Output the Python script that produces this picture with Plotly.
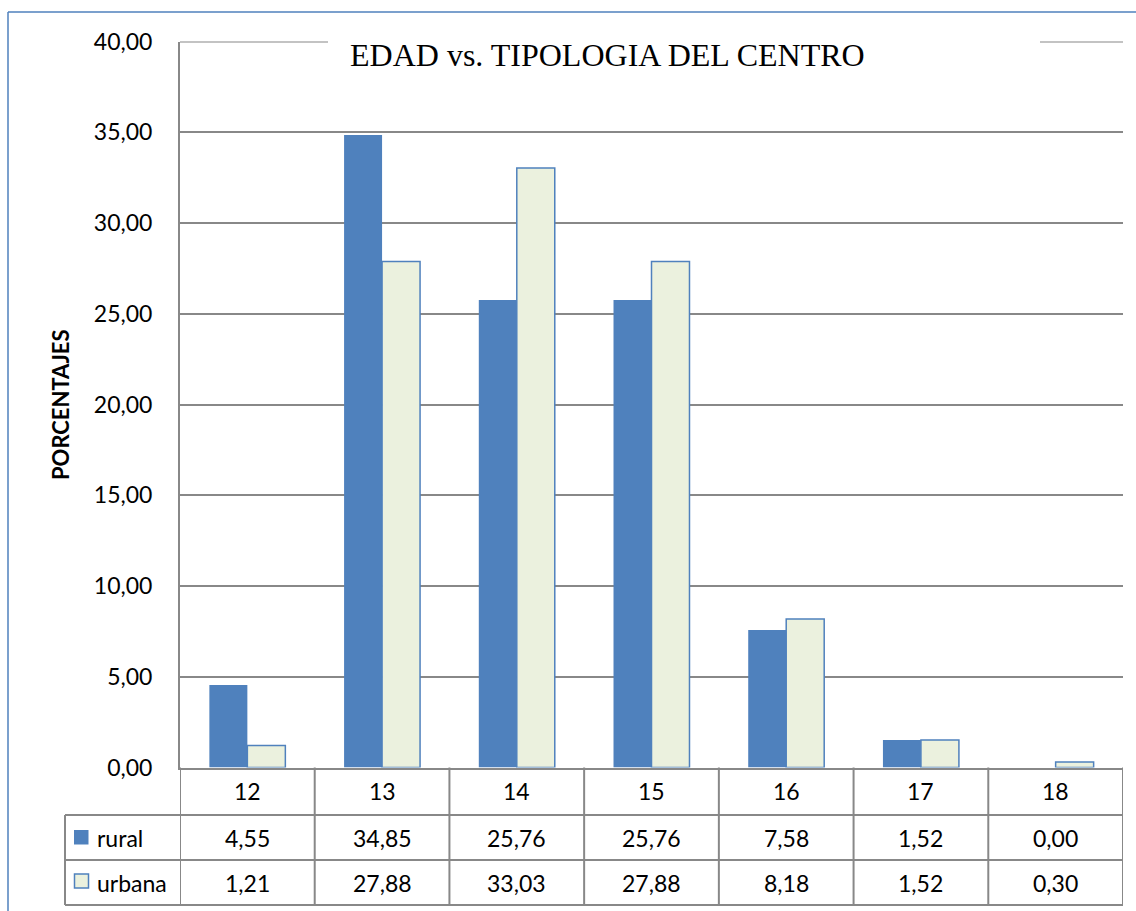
import plotly.graph_objects as go

# Ages and percentage per school type
edades = ["12", "13", "14", "15", "16", "17", "18"]
rural = [4.55, 34.85, 25.76, 25.76, 7.58, 1.52, 0.00]
urbana = [1.21, 27.88, 33.03, 27.88, 8.18, 1.52, 0.30]
series_names = ["rural", "urbana"]
y_ticks = [0, 5, 10, 15, 20, 25, 30, 35, 40]

W, H = 1136, 911
BLUE = "#4F81BD"
LIGHT = "#EBF1DE"
GRID = "#888888"
FONT = "Lato"


def px_x(p):
    return p / W


def px_y(p):
    return 1 - p / H


def fmt(v):
    return f"{v:.2f}".replace(".", ",")


fig = go.Figure()
fig.add_trace(go.Bar(x=edades, y=rural, name=series_names[0],
                     marker=dict(color=BLUE, line=dict(width=0))))
fig.add_trace(go.Bar(x=edades, y=urbana, name=series_names[1],
                     marker=dict(color=LIGHT, line=dict(color=BLUE, width=1.5))))

shapes = []
annotations = []

# outer chart border (left and top edges)
shapes.append(dict(type="line", xref="paper", yref="paper",
                   x0=px_x(8), x1=px_x(8), y0=px_y(12), y1=0,
                   line=dict(color=BLUE, width=1.5)))
shapes.append(dict(type="line", xref="paper", yref="paper",
                   x0=px_x(8), x1=1, y0=px_y(12), y1=px_y(12),
                   line=dict(color=BLUE, width=1.5)))

# top gridline (at the upper end of the value range)
shapes.append(dict(type="line", xref="paper", yref="y", layer="below",
                   x0=px_x(180), x1=px_x(1123), y0=y_ticks[-1], y1=y_ticks[-1],
                   line=dict(color=GRID, width=2)))

# white box behind the title, interrupting the top gridline
shapes.append(dict(type="rect", xref="paper", yref="paper", layer="above",
                   x0=px_x(328), x1=px_x(1040), y0=px_y(78), y1=px_y(28),
                   fillcolor="white", line=dict(width=0)))

# data table grid
row_top, row1, row2, row3 = 767.5, 815, 860, 905
tl = dict(color=GRID, width=2)
for yy in (row1, row2, row3):
    shapes.append(dict(type="line", xref="paper", yref="paper",
                       x0=px_x(65), x1=px_x(1123), y0=px_y(yy), y1=px_y(yy), line=tl))
shapes.append(dict(type="line", xref="paper", yref="paper",
                   x0=px_x(65), x1=px_x(65), y0=px_y(row1), y1=px_y(row3), line=tl))
for i in range(len(edades) + 1):
    shapes.append(dict(type="line", xref="x", yref="paper",
                       x0=i - 0.5, x1=i - 0.5, y0=px_y(row_top), y1=px_y(row3), line=tl))

# legend keys inside the table
shapes.append(dict(type="rect", xref="paper", yref="paper",
                   x0=px_x(74), x1=px_x(88.5), y0=px_y(844.5), y1=px_y(830),
                   fillcolor=BLUE, line=dict(width=0)))
shapes.append(dict(type="rect", xref="paper", yref="paper",
                   x0=px_x(74.5), x1=px_x(88.5), y0=px_y(888), y1=px_y(874),
                   fillcolor=LIGHT, line=dict(color=BLUE, width=1.5)))

tfont = dict(family=FONT, size=23, color="black")
rows_y = [(row_top + row1) / 2, (row1 + row2) / 2, (row2 + row3) / 2]
for i, (cat, r, u) in enumerate(zip(edades, rural, urbana)):
    for text, yy in ((cat, rows_y[0]), (fmt(r), rows_y[1]), (fmt(u), rows_y[2])):
        annotations.append(dict(x=i, xref="x", y=px_y(yy), yref="paper",
                                text=text, showarrow=False, font=tfont,
                                xanchor="center", yanchor="middle"))
for name, yy in zip(series_names, rows_y[1:]):
    annotations.append(dict(x=px_x(95), xref="paper", y=px_y(yy), yref="paper",
                            text=name, showarrow=False, font=tfont,
                            xanchor="left", yanchor="middle"))

# title
annotations.append(dict(x=px_x(607), xref="paper", y=px_y(55), yref="paper",
                        text="EDAD vs. TIPOLOGIA DEL CENTRO", showarrow=False,
                        font=dict(family="Liberation Serif", size=32, color="black"),
                        xanchor="center", yanchor="middle"))

# y-axis title
annotations.append(dict(x=px_x(60), xref="paper", y=px_y(405), yref="paper",
                        text="<b>PORCENTAJES</b>", showarrow=False, textangle=-90,
                        font=dict(family=FONT, size=22, color="black"),
                        xanchor="center", yanchor="middle"))

fig.update_layout(
    width=W, height=H,
    margin=dict(l=0, r=0, t=0, b=0, autoexpand=False),
    paper_bgcolor="white", plot_bgcolor="white",
    showlegend=False,
    barmode="group", bargap=0.436, bargroupgap=0,
    separators=",.",
    shapes=shapes, annotations=annotations,
    xaxis=dict(domain=[px_x(180), px_x(1123)], range=[-0.5, len(edades) - 0.5],
               type="category", showticklabels=False, showgrid=False, automargin=False,
               showline=True, linecolor=GRID, linewidth=2, ticks="", zeroline=False),
    yaxis=dict(domain=[px_y(767.5), px_y(41.5)], range=[0, 40], automargin=False,
               tickvals=y_ticks, tickformat=".2f",
               showgrid=True, gridcolor=GRID, gridwidth=2,
               showline=True, linecolor=GRID, linewidth=2,
               zeroline=False, ticks="", ticklabelstandoff=21,
               tickfont=dict(family=FONT, size=23, color="black")),
)

fig.write_html("out.html", config={"displayModeBar": False})
